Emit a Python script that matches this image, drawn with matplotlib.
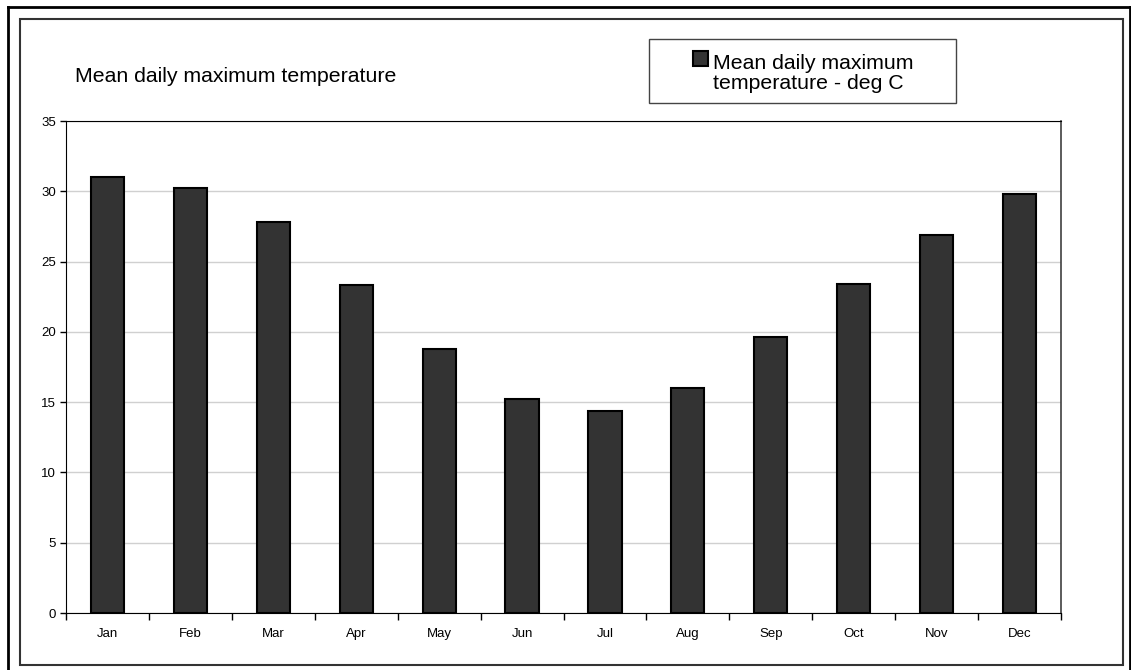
import matplotlib.pyplot as plt
from matplotlib.patches import Rectangle
from matplotlib.lines import Line2D

plt.rcParams['font.family'] = ['Liberation Sans', 'DejaVu Sans']

# data
months = ['Jan', 'Feb', 'Mar', 'Apr', 'May', 'Jun',
          'Jul', 'Aug', 'Sep', 'Oct', 'Nov', 'Dec']
max_temp = [31.0, 30.2, 27.8, 23.3, 18.8, 15.2,
            14.4, 16.0, 19.6, 23.4, 26.9, 29.8]
title = "Mean daily maximum temperature"
series_label = "Mean daily maximum\ntemperature - deg C"
bar_color = '#333333'

W, H = 1131, 670
fig = plt.figure(figsize=(W / 100, H / 100), dpi=100)

# outer frame bits (top / left / right black) and chart-area frame
fig.add_artist(Line2D([8 / W, 8 / W], [0, 1 - 7 / H], transform=fig.transFigure, color='black', lw=2))
fig.add_artist(Line2D([8 / W, 1], [1 - 7 / H, 1 - 7 / H], transform=fig.transFigure, color='black', lw=2))
fig.add_artist(Line2D([1130 / W, 1130 / W], [0, 1 - 7 / H], transform=fig.transFigure, color='black', lw=2))
fig.add_artist(Rectangle((20 / W, 1 - 665 / H), 1103 / W, 646 / H, transform=fig.transFigure,
                         fill=False, edgecolor='#333333', lw=1.5))

ax = fig.add_axes([66 / W, 1 - 613 / H, 995 / W, 492 / H])
x = list(range(len(months)))
ax.bar(x, max_temp, width=0.4, color=bar_color, edgecolor='black', linewidth=1.5, zorder=3)

ax.set_xlim(-0.5, len(months) - 0.5)
ax.set_ylim(0, 35)
ax.set_yticks(range(0, 36, 5))
ax.yaxis.grid(True, color='#d0d0d0', lw=1, zorder=0)
ax.tick_params(axis='y', direction='out', length=4, width=1, pad=3, labelsize=9.5)

# category labels at centres, tick marks between categories
ax.set_xticks([i - 0.5 for i in range(len(months) + 1)])
ax.set_xticklabels([])
ax.set_xticks(x, minor=True)
ax.set_xticklabels(months, minor=True)
ax.tick_params(axis='x', which='major', direction='out', length=5, width=1)
ax.tick_params(axis='x', which='minor', length=0, pad=11, labelsize=9.5)

for side in ['left', 'bottom', 'top']:
    ax.spines[side].set_color('black')
ax.spines['right'].set_color('#404040')
ax.spines['right'].set_linewidth(1.2)

fig.text(75 / W, 1 - 82 / H, title, fontsize=15.3, va='baseline', ha='left')

# legend box
fig.add_artist(Rectangle((649 / W, 1 - 103 / H), 307 / W, 64 / H, transform=fig.transFigure,
                         facecolor='white', edgecolor='#444444', lw=1))
fig.add_artist(Rectangle((693 / W, 1 - 66 / H), 15 / W, 15 / H, transform=fig.transFigure,
                         facecolor=bar_color, edgecolor='black', lw=1.5))
fig.text(713 / W, 1 - 89.3 / H, series_label, fontsize=15.3, va='baseline', ha='left',
         linespacing=1.12)

fig.savefig('out.png', dpi=100)
